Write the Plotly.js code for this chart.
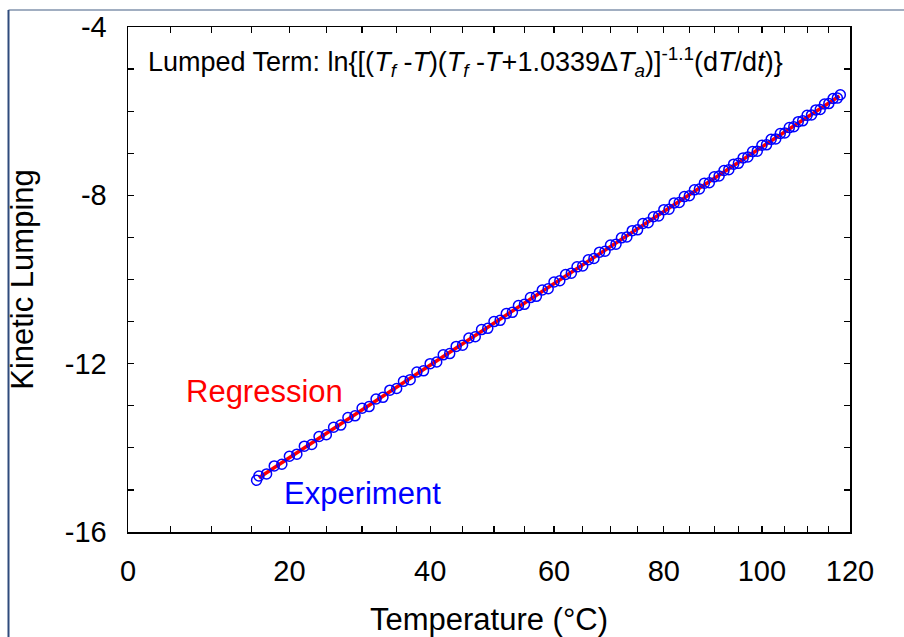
<!DOCTYPE html>
<html>
<head>
<meta charset="utf-8">
<script src="https://cdn.plot.ly/plotly-3.0.1.min.js"></script>
<style>
  html, body { margin: 0; padding: 0; background: #ffffff; }
  #chart { width: 904px; height: 637px; }
</style>
</head>
<body>
<div id="chart"></div>
<script>
// ---- Data (temperature in °C, kinetic lumping term) ----
const expTemp = [15.7, 16, 17, 18, 19, 20, 21, 22, 23, 24, 25, 26, 27, 28, 29, 30,
  31, 32, 33, 34, 35, 36, 37, 38, 39, 40, 41, 42, 43, 44, 45, 46, 47, 48, 49, 50,
  51, 52, 53, 54, 55, 56, 57, 58, 59, 60, 61, 62, 63, 64, 65, 66, 67, 68, 69, 70,
  71, 72, 73, 74, 75, 76, 77, 78, 79, 80, 81, 82, 83, 84, 85, 86, 87, 88, 89, 90,
  91, 92, 93, 94, 95, 96, 97, 98, 99, 100, 101, 102, 103, 104, 105, 106, 107, 108,
  109, 110, 111, 112, 113, 114, 115, 116, 117, 117.7];
const expLump = [-14.77, -14.67, -14.62, -14.43, -14.39, -14.20, -14.15, -13.96, -13.92, -13.73,
  -13.69, -13.51, -13.46, -13.28, -13.24, -13.06, -13.02, -12.84, -12.80, -12.63,
  -12.59, -12.42, -12.38, -12.20, -12.17, -12.00, -11.96, -11.79, -11.76, -11.59,
  -11.56, -11.39, -11.36, -11.19, -11.16, -11.00, -10.97, -10.81, -10.78, -10.62,
  -10.59, -10.43, -10.40, -10.25, -10.22, -10.06, -10.03, -9.88, -9.85, -9.70,
  -9.68, -9.53, -9.50, -9.35, -9.33, -9.18, -9.16, -9.01, -8.99, -8.84,
  -8.82, -8.67, -8.65, -8.51, -8.49, -8.34, -8.33, -8.18, -8.17, -8.03,
  -8.01, -7.87, -7.85, -7.71, -7.70, -7.56, -7.54, -7.41, -7.39, -7.26,
  -7.24, -7.11, -7.09, -6.96, -6.95, -6.81, -6.80, -6.67, -6.66, -6.53,
  -6.52, -6.39, -6.37, -6.25, -6.23, -6.10, -6.09, -5.97, -5.96, -5.83,
  -5.82, -5.70, -5.69, -5.61];
const regTemp = [16, 117.5];
const regLump = [-14.71, -5.64];
const xTickTemps = [0, 5, 10, 15, 20, 25, 30, 35, 40, 45, 50, 55, 60, 65, 70, 75, 80, 85, 90,
  95, 100, 105, 110, 115, 120];
const xTickLabels = ['0', '', '', '', '20', '', '', '', '40', '', '', '', '60', '', '', '', '80',
  '', '', '', '100', '', '', '', '120'];
const yTickVals = [-16, -15, -14, -13, -12, -11, -10, -9, -8, -7, -6, -5, -4];
const yTickLabels = ['-16', '', '', '', '-12', '', '', '', '-8', '', '', '', '-4'];
const yRange = [-16, -4];

// The x axis is a reciprocal-absolute-temperature (Arrhenius) axis, labelled in °C.
const inv = t => 1000 / (t + 273.15);

const W = 904, H = 637;
const M = { l: 128, r: 54, t: 27, b: 105 };
const pw = W - M.l - M.r, ph = H - M.t - M.b;
const px = x => (x - M.l) / pw;
const py = y => (H - M.b - y) / ph;

const font = 'Arial, "Liberation Sans", sans-serif';

const traces = [
  {
    x: regTemp.map(inv), y: regLump, mode: 'lines', type: 'scatter',
    line: { color: '#ff0000', width: 3.5 }, hoverinfo: 'skip', showlegend: false
  },
  {
    x: expTemp.map(inv), y: expLump, mode: 'markers', type: 'scatter',
    marker: { symbol: 'circle-open', size: 10, color: '#0000ff', line: { width: 1.5, color: '#0000ff' } },
    showlegend: false
  }
];

const layout = {
  width: W, height: H,
  margin: M,
  paper_bgcolor: '#ffffff', plot_bgcolor: '#ffffff',
  font: { family: font, color: '#000000' },
  showlegend: false,
  xaxis: {
    range: [inv(0), inv(120)],
    tickmode: 'array', tickvals: xTickTemps.map(inv), ticktext: xTickLabels,
    ticks: 'inside', ticklen: 6, tickwidth: 1.2, tickcolor: '#000',
    showline: true, linecolor: '#000', linewidth: 1.5, mirror: 'ticks',
    showgrid: false, zeroline: false,
    tickfont: { size: 29, family: font, color: '#000' },
    ticklabelstandoff: 13,
    title: { text: 'Temperature (°C)', font: { size: 31, family: font, color: '#000' }, standoff: 22 }
  },
  yaxis: {
    range: yRange,
    tickmode: 'array', tickvals: yTickVals, ticktext: yTickLabels,
    ticks: 'inside', ticklen: 6, tickwidth: 1.2, tickcolor: '#000',
    showline: true, linecolor: '#000', linewidth: 1.5, mirror: 'ticks',
    showgrid: false, zeroline: false,
    tickfont: { size: 29, family: font, color: '#000' },
    ticklabelstandoff: 14,
    title: { text: 'Kinetic Lumping', font: { size: 31, family: font, color: '#000' }, standoff: 22 }
  },
  annotations: [
    {
      xref: 'paper', yref: 'paper', x: px(146), y: py(62), xanchor: 'left', yanchor: 'middle',
      showarrow: false,
      text: 'Lumped Term: ln{[(<i>T<sub>f</sub></i> -<i>T</i>)(<i>T<sub>f</sub></i> -<i>T</i>+1.0339Δ<i>T<sub>a</sub></i>)]<sup>-1.1</sup>(d<i>T</i>/d<i>t</i>)}',
      font: { size: 27, family: font, color: '#000' }
    },
    {
      xref: 'paper', yref: 'paper', x: px(184), y: py(391), xanchor: 'left', yanchor: 'middle',
      showarrow: false, text: 'Regression', font: { size: 31, family: font, color: '#ff0000' }
    },
    {
      xref: 'paper', yref: 'paper', x: px(282), y: py(493), xanchor: 'left', yanchor: 'middle',
      showarrow: false, text: 'Experiment', font: { size: 31, family: font, color: '#0000ff' }
    }
  ],
  shapes: [
    { type: 'line', xref: 'paper', yref: 'paper', x0: px(8.5), x1: px(904), y0: py(10), y1: py(10),
      line: { color: '#8293ad', width: 1.5 } },
    { type: 'line', xref: 'paper', yref: 'paper', x0: px(8.5), x1: px(8.5), y0: py(10), y1: py(637),
      line: { color: '#2f4b7c', width: 2 } }
  ]
};

Plotly.newPlot('chart', traces, layout, { staticPlot: true, displayModeBar: false });
</script>
</body>
</html>
